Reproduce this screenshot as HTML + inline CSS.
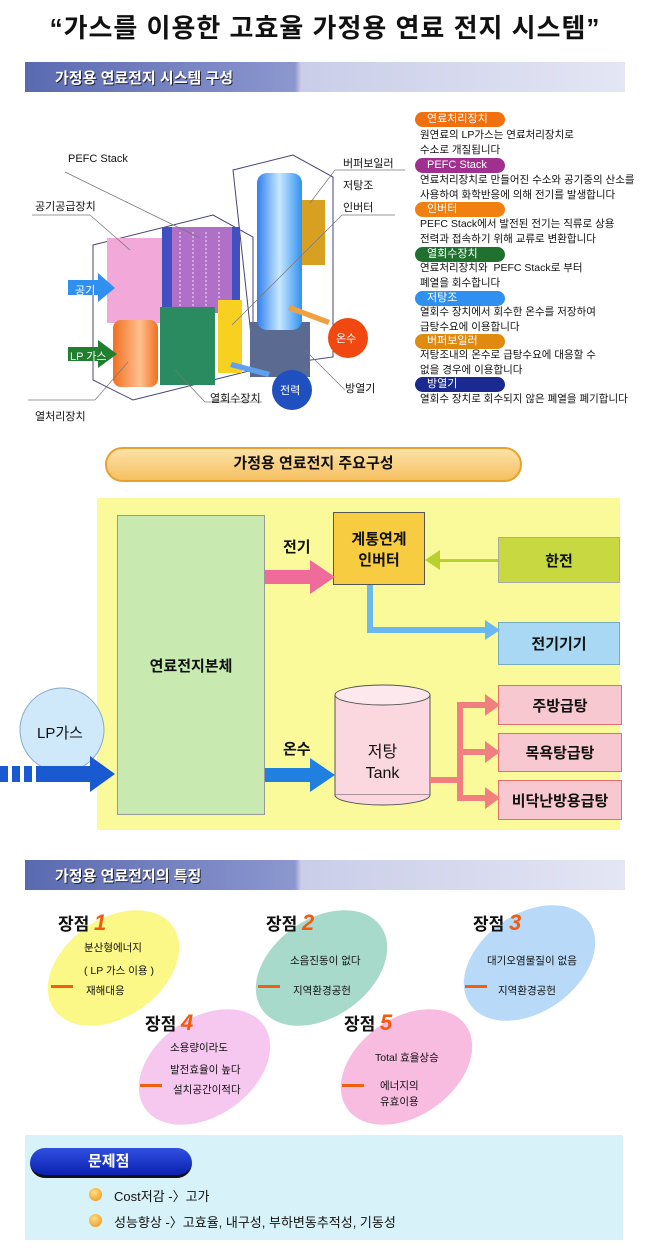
<!DOCTYPE html>
<html><head><meta charset="utf-8"><style>
*{margin:0;padding:0;box-sizing:border-box}
body{width:650px;height:1250px;background:#fff;position:relative;overflow:hidden;font-family:"Liberation Sans","Noto Sans CJK KR",sans-serif;color:#111}
.a{position:absolute}
.bar{position:absolute;left:25px;width:600px;height:30px;background:linear-gradient(90deg,#5a6ab0,#8c97cf 45%,#c9cde8 46%,#e4e6f4);}
.bar span{position:absolute;left:30px;top:5px;color:#fff;font-weight:bold;font-size:15px;text-shadow:1px 1px 0 #223}
.pill{position:absolute;left:415px;height:15px;border-radius:8px;color:#fff;font-size:11px;padding-left:12px;width:90px;line-height:15px}
.desc{position:absolute;left:420px;font-size:10.5px;line-height:15px}
.lbl{position:absolute;font-size:11px}
.box{position:absolute;display:flex;align-items:center;justify-content:center;text-align:center;font-weight:bold;font-size:15px;border:1px solid #888}
.ell{position:absolute;border-radius:50%;transform:rotate(-35deg);width:145px;height:98px}
.t{position:absolute;font-size:10.5px}
.h{position:absolute;font-size:17px;font-weight:bold}
.h b{color:#f25a10;font-style:italic;font-size:22px}
.ar{position:absolute;width:22px;height:6px;border-bottom:3px solid #f06010}
</style></head><body>
<div class="a" style="left:0;top:8px;width:650px;text-align:center;font-size:26px;font-weight:bold;letter-spacing:1px">“가스를 이용한 고효율 가정용 연료 전지 시스템”</div>

<div class="bar" style="top:62px"><span>가정용 연료전지 시스템 구성</span></div>

<!-- diagram 1 -->
<svg class="a" style="left:0;top:100px" width="420" height="330">
<defs>
<linearGradient id="cb" x1="0" x2="1"><stop offset="0" stop-color="#3080f0"/><stop offset=".5" stop-color="#c8e8ff"/><stop offset="1" stop-color="#3090f0"/></linearGradient>
<linearGradient id="co" x1="0" x2="1"><stop offset="0" stop-color="#f07020"/><stop offset=".6" stop-color="#ffc090"/><stop offset="1" stop-color="#f07020"/></linearGradient>
</defs>
<polygon points="93,145 213,115 253,137 253,270 133,300 93,280" fill="none" stroke="#447"/>
<polygon points="233,70 293,55 333,77 333,257 275,265 253,253" fill="none" stroke="#447"/>
<rect x="107" y="138" width="55" height="85" fill="#f2a8d8"/>
<rect x="162" y="127" width="78" height="86" fill="#b070c8"/>
<rect x="162" y="127" width="10" height="86" fill="#4050c0"/><rect x="232" y="127" width="8" height="86" fill="#4050c0"/>
<g stroke="#f8e0f8" stroke-dasharray="2,2"><line x1="180" y1="132" x2="180" y2="213"/><line x1="193" y1="132" x2="193" y2="213"/><line x1="206" y1="132" x2="206" y2="213"/><line x1="219" y1="132" x2="219" y2="213"/></g>
<rect x="113" y="220" width="45" height="67" rx="8" fill="url(#co)"/>
<rect x="160" y="207" width="55" height="78" fill="#2a8a60"/>
<rect x="218" y="200" width="24" height="73" fill="#f8d020"/>
<rect x="250" y="222" width="60" height="55" fill="#5a6a90"/>
<rect x="257" y="73" width="45" height="157" rx="10" fill="url(#cb)"/>
<rect x="302" y="100" width="23" height="65" fill="#d8a020"/>
<circle cx="348" cy="238" r="20" fill="#f04810"/>
<circle cx="292" cy="290" r="20" fill="#2050c0"/>
<polygon points="290,205 330,220 328,225 288,210" fill="#f0a040"/>
<polygon points="232,262 270,272 268,277 230,267" fill="#60a0f0"/>
<polygon points="68,180 98,180 98,173 115,188 98,202 98,195 68,195" fill="#3090f0"/>
<polygon points="68,247 98,247 98,240 117,254 98,268 98,261 68,261" fill="#208030"/>
<g stroke="#777" stroke-width="0.7" fill="none"><line x1="65" y1="72" x2="200" y2="138"/><line x1="32" y1="115" x2="90" y2="115"/><line x1="90" y1="115" x2="130" y2="150"/><line x1="28" y1="300" x2="95" y2="300"/><line x1="95" y1="300" x2="128" y2="262"/><line x1="205" y1="302" x2="262" y2="302"/><line x1="205" y1="302" x2="175" y2="270"/><line x1="335" y1="70" x2="405" y2="70"/><line x1="335" y1="70" x2="310" y2="103"/><line x1="342" y1="115" x2="395" y2="115"/><line x1="342" y1="115" x2="232" y2="225"/><line x1="345" y1="290" x2="305" y2="250"/></g>
<text x="336" y="242" font-size="11" fill="#fff" font-family="Liberation Sans,Noto Sans CJK KR">온수</text>
<text x="280" y="294" font-size="11" fill="#fff" font-family="Liberation Sans,Noto Sans CJK KR">전력</text>
</svg>
<div class="lbl" style="left:68px;top:153px">PEFC Stack</div>
<div class="lbl" style="left:35px;top:198px">공기공급장치</div>
<div class="lbl" style="left:75px;top:282px;color:#fff">공기</div>
<div class="lbl" style="left:70px;top:348px;color:#fff">LP 가스</div>
<div class="lbl" style="left:35px;top:408px">열처리장치</div>
<div class="lbl" style="left:210px;top:390px">열회수장치</div>
<div class="lbl" style="left:345px;top:380px">방열기</div>
<div class="lbl" style="left:343px;top:155px">버퍼보일러</div>
<div class="lbl" style="left:343px;top:177px">저탕조</div>
<div class="lbl" style="left:343px;top:199px">인버터</div>

<div class="pill" style="top:112px;background:#f07010">연료처리장치</div>
<div class="desc" style="top:128px">원연료의 LP가스는 연료처리장치로<br>수소로 개질됩니다</div>
<div class="pill" style="top:158px;background:#a03090">PEFC Stack</div>
<div class="desc" style="top:173px">연료처리장치로 만들어진 수소와 공기중의 산소를<br>사용하여 화학반응에 의해 전기를 발생합니다</div>
<div class="pill" style="top:202px;background:#f08010">인버터</div>
<div class="desc" style="top:217px">PEFC Stack에서 발전된 전기는 직류로 상용<br>전력과 접속하기 위해 교류로 변환합니다</div>
<div class="pill" style="top:247px;background:#207030">열회수장치</div>
<div class="desc" style="top:261px">연료처리장치와 &nbsp;PEFC Stack로 부터<br>폐열을 회수합니다</div>
<div class="pill" style="top:291px;background:#3090f0">저탕조</div>
<div class="desc" style="top:305px">열회수 장치에서 회수한 온수를 저장하여<br>급탕수요에 이용합니다</div>
<div class="pill" style="top:334px;background:#e08a10">버퍼보일러</div>
<div class="desc" style="top:348px">저탕조내의 온수로 급탕수요에 대응할 수<br>없을 경우에 이용합니다</div>
<div class="pill" style="top:377px;background:#1a2a90">방열기</div>
<div class="desc" style="top:392px">열회수 장치로 회수되지 않은 폐열을 폐기합니다</div>

<!-- section 2 -->
<div class="a" style="left:105px;top:447px;width:417px;height:35px;border-radius:18px;background:linear-gradient(#fbe2a8,#f6c060);border:2px solid #e8a030;text-align:center;line-height:30px;font-size:15px;font-weight:bold">가정용 연료전지 주요구성</div>
<div class="a" style="left:97px;top:498px;width:523px;height:332px;background:#fafa9a"></div>
<div class="box" style="left:117px;top:515px;width:148px;height:300px;background:#c8eab0;border-color:#999">연료전지본체</div>
<div class="box" style="left:333px;top:512px;width:92px;height:73px;background:#f8cc40;border-color:#555">계통연계<br>인버터</div>
<div class="box" style="left:498px;top:537px;width:122px;height:46px;background:#c8d840;border-color:#aaa">한전</div>
<div class="box" style="left:498px;top:622px;width:122px;height:43px;background:#a8d8f4;border-color:#7ab">전기기기</div>
<div class="box" style="left:498px;top:685px;width:124px;height:40px;background:#f8c8d0;border-color:#e07070">주방급탕</div>
<div class="box" style="left:498px;top:733px;width:124px;height:39px;background:#f8c8d0;border-color:#e07070">목욕탕급탕</div>
<div class="box" style="left:498px;top:780px;width:124px;height:40px;background:#f8c8d0;border-color:#e07070">비닥난방용급탕</div>
<svg class="a" style="left:0;top:490px" width="650" height="340">
<rect x="335" y="205" width="95" height="100" fill="#fbd8e0" stroke="#555"/>
<ellipse cx="382.5" cy="205" rx="47.5" ry="10" fill="#fde8ee" stroke="#555"/>
<path d="M335,305 A47.5,10 0 0 0 430,305" fill="#fbd8e0" stroke="#555"/>
<polygon points="265,80 310,80 310,70 335,87 310,104 310,94 265,94" fill="#f06a9a"/>
<polygon points="498,69 440,69 440,60 425,70 440,80 440,72 498,72" fill="#b8d030"/>
<polyline points="370,95 370,140 488,140" fill="none" stroke="#6ab8f0" stroke-width="6"/>
<polygon points="485,130 500,140 485,150" fill="#6ab8f0"/>
<polygon points="265,278 310,278 310,268 335,285 310,302 310,292 265,292" fill="#2080e0"/>
<path d="M430,290 H460 V215 H488 M460,262 H488 M460,287 V308 H488" fill="none" stroke="#f08080" stroke-width="6"/>
<polygon points="485,204 500,215 485,226" fill="#f08080"/><polygon points="485,251 500,262 485,273" fill="#f08080"/><polygon points="485,297 500,308 485,319" fill="#f08080"/>
<circle cx="62" cy="240" r="42" fill="#cfe8fa" stroke="#8ac" />
<rect x="0" y="276" width="8" height="16" fill="#1a5ad0"/><rect x="12" y="276" width="8" height="16" fill="#1a5ad0"/><rect x="24" y="276" width="8" height="16" fill="#1a5ad0"/>
<polygon points="36,276 90,276 90,266 115,284 90,302 90,292 36,292" fill="#1a5ad0"/>
</svg>
<div class="a" style="left:37px;top:722px;font-size:15px">LP가스</div>
<div class="a" style="left:283px;top:536px;font-size:15px;font-weight:bold">전기</div>
<div class="a" style="left:283px;top:738px;font-size:15px;font-weight:bold">온수</div>
<div class="a" style="left:340px;top:742px;width:85px;text-align:center;font-size:16px;line-height:21px">저탕<br>Tank</div>

<div class="bar" style="top:860px"><span>가정용 연료전지의 특징</span></div>

<div class="ell" style="left:41px;top:919px;background:#fbf887"></div>
<div class="ell" style="left:249px;top:919px;background:#a8dacc"></div>
<div class="ell" style="left:457px;top:914px;background:#b8daf8"></div>
<div class="ell" style="left:132px;top:1018px;background:#f6c8f0"></div>
<div class="ell" style="left:334px;top:1018px;background:#f8bce0"></div>
<div class="h" style="left:58px;top:910px">장점 <b>1</b></div>
<div class="h" style="left:266px;top:910px">장점 <b>2</b></div>
<div class="h" style="left:473px;top:910px">장점 <b>3</b></div>
<div class="h" style="left:145px;top:1010px">장점 <b>4</b></div>
<div class="h" style="left:344px;top:1010px">장점 <b>5</b></div>
<div class="t" style="left:84px;top:940px">분산형에너지</div>
<div class="t" style="left:84px;top:963px">( LP 가스 이용 )</div>
<div class="ar" style="left:51px;top:982px"></div><div class="t" style="left:86px;top:983px">재해대응</div>
<div class="t" style="left:290px;top:953px">소음진동이 없다</div>
<div class="ar" style="left:258px;top:982px"></div><div class="t" style="left:293px;top:983px">지역환경공헌</div>
<div class="t" style="left:487px;top:953px">대기오염물질이 없음</div>
<div class="ar" style="left:465px;top:982px"></div><div class="t" style="left:498px;top:983px">지역환경공헌</div>
<div class="t" style="left:170px;top:1040px">소용량이라도</div>
<div class="t" style="left:170px;top:1062px">발전효율이 높다</div>
<div class="ar" style="left:140px;top:1081px"></div><div class="t" style="left:173px;top:1082px">설치공간이적다</div>
<div class="t" style="left:375px;top:1050px">Total 효율상승</div>
<div class="ar" style="left:342px;top:1081px"></div><div class="t" style="left:380px;top:1078px;line-height:16px">에너지의<br>유효이용</div>

<div class="a" style="left:25px;top:1135px;width:598px;height:105px;background:#d8f2fa"></div>
<div class="a" style="left:30px;top:1148px;width:162px;height:30px;border-radius:15px;background:linear-gradient(#3050e0,#0a20b0);border-bottom:3px solid #111;color:#fff;font-size:15px;font-weight:bold;padding-left:58px;line-height:27px">문제점</div>
<div class="a" style="left:89px;top:1188px;width:13px;height:13px;border-radius:50%;background:radial-gradient(circle at 40% 35%,#ffe080,#f08a10)"></div>
<div class="a" style="left:114px;top:1186px;font-size:13px">Cost저감 -〉고가</div>
<div class="a" style="left:89px;top:1214px;width:13px;height:13px;border-radius:50%;background:radial-gradient(circle at 40% 35%,#ffe080,#f08a10)"></div>
<div class="a" style="left:114px;top:1212px;font-size:13px">성능향상 -〉고효율, 내구성, 부하변동추적성, 기동성</div>
</body></html>
